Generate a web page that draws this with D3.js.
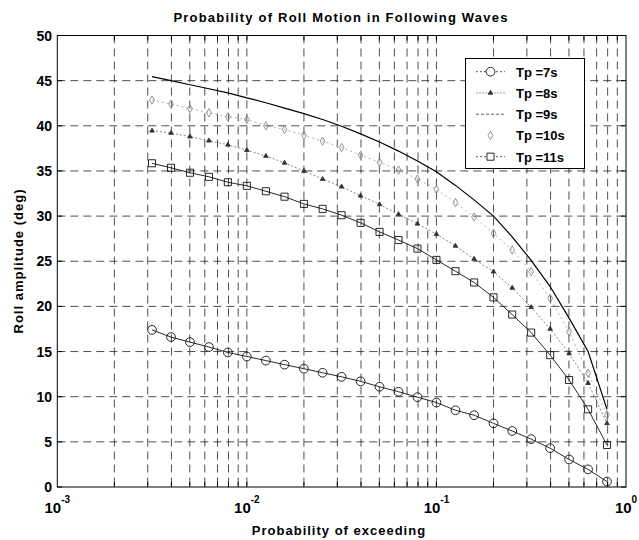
<!DOCTYPE html>
<html>
<head>
<meta charset="utf-8">
<script src="https://cdn.jsdelivr.net/npm/d3@7"></script>
<style>
  body { margin: 0; background: #fff; }
  svg { display: block; font-family: "Liberation Sans", Arial, sans-serif; }
</style>
</head>
<body>
<div id="chart"></div>
<script>
// probability of exceeding (x), shared by all curves
var probs = [0.00316, 0.00398, 0.00501, 0.00631, 0.00794, 0.01, 0.0126, 0.0158, 0.02, 0.0251,
             0.0316, 0.0398, 0.0501, 0.0631, 0.0794, 0.1, 0.126, 0.158, 0.2, 0.251,
             0.316, 0.398, 0.501, 0.631, 0.794];

var tp7  = [17.4, 16.6, 16.05, 15.5, 14.9, 14.45, 14.0, 13.55, 13.1, 12.65, 12.2, 11.7, 11.1, 10.55, 9.95,
            9.35, 8.5, 7.95, 7.05, 6.2, 5.3, 4.3, 3.05, 1.95, 0.6];
var tp8  = [39.45, 39.2, 38.8, 38.35, 37.9, 37.3, 36.65, 35.9, 35.0, 34.1, 33.25, 32.25, 31.3, 30.2, 29.15,
            28.0, 26.7, 25.25, 23.85, 22.05, 19.9, 17.5, 14.8, 11.5, 7.05];
var tp9  = [45.45, 45.0, 44.55, 44.1, 43.65, 43.1, 42.55, 41.95, 41.35, 40.7, 39.95, 39.1, 38.2, 37.2, 36.1,
            34.9, 33.4, 31.8, 30.0, 27.7, 25.1, 22.2, 18.7, 15.0, 8.6];
var tp10 = [42.85, 42.4, 41.9, 41.45, 41.0, 40.7, 40.0, 39.6, 38.95, 38.3, 37.6, 36.75, 35.95, 35.1, 34.1,
            32.95, 31.5, 29.9, 28.1, 26.25, 23.85, 20.9, 17.2, 12.6, 8.0];
var tp11 = [35.85, 35.35, 34.8, 34.35, 33.75, 33.35, 32.75, 32.15, 31.35, 30.8, 30.1, 29.25, 28.25, 27.35, 26.4,
            25.15, 23.9, 22.65, 21.0, 19.1, 17.1, 14.6, 11.85, 8.6, 4.65];

var seriesNames = ["Tp =7s", "Tp =8s", "Tp =9s", "Tp =10s", "Tp =11s"];
var xTickExps = [-3, -2, -1, 0];
var yTicks = [0, 5, 10, 15, 20, 25, 30, 35, 40, 45, 50];

var W = 639, H = 540;
var pL = 57.3, pR = 626, pT = 35.5, pB = 487;

var svg = d3.select("#chart").append("svg")
    .attr("width", W)
    .attr("height", H);

var x = d3.scaleLog().domain([1e-3, 1]).range([pL, pR]);
var y = d3.scaleLinear().domain([0, 50]).range([pB, pT]);

// grid
var xGrid = x.ticks().filter(function(d) { return d > 1.0001e-3 && d < 0.9999; });
svg.append("g").selectAll("line")
    .data(xGrid)
    .enter().append("line")
    .attr("x1", function(d) { return x(d); })
    .attr("x2", function(d) { return x(d); })
    .attr("y1", pT)
    .attr("y2", pB)
    .attr("stroke", "#222")
    .attr("stroke-width", 0.8)
    .attr("stroke-dasharray", "8,5");

svg.append("g").selectAll("line")
    .data(yTicks.filter(function(d) { return d > 0 && d < 50; }))
    .enter().append("line")
    .attr("x1", pL)
    .attr("x2", pR)
    .attr("y1", function(d) { return y(d); })
    .attr("y2", function(d) { return y(d); })
    .attr("stroke", "#222")
    .attr("stroke-width", 0.8)
    .attr("stroke-dasharray", "8,5");

// inner ticks on all sides
var tk = svg.append("g").attr("stroke", "#000").attr("stroke-width", 1);
xGrid.forEach(function(d) {
    tk.append("line").attr("x1", x(d)).attr("x2", x(d)).attr("y1", pB).attr("y2", pB - 5);
    tk.append("line").attr("x1", x(d)).attr("x2", x(d)).attr("y1", pT).attr("y2", pT + 5);
});
yTicks.forEach(function(d) {
    tk.append("line").attr("x1", pL).attr("x2", pL + 5).attr("y1", y(d)).attr("y2", y(d));
    tk.append("line").attr("x1", pR).attr("x2", pR - 5).attr("y1", y(d)).attr("y2", y(d));
});

// frame
svg.append("rect")
    .attr("x", pL).attr("y", pT)
    .attr("width", pR - pL).attr("height", pB - pT)
    .attr("fill", "none")
    .attr("stroke", "#000")
    .attr("stroke-width", 1);

// y tick labels
svg.append("g").selectAll("text")
    .data(yTicks)
    .enter().append("text")
    .attr("x", 52)
    .attr("y", function(d) { return y(d) + 5; })
    .attr("text-anchor", "end")
    .style("font-size", "14px")
    .style("font-weight", "bold")
    .text(function(d) { return d; });

// x tick labels (10^e)
var xl = svg.append("g").selectAll("text")
    .data(xTickExps)
    .enter().append("text")
    .attr("x", function(d) { return x(Math.pow(10, d)); })
    .attr("y", 513)
    .attr("text-anchor", "middle")
    .style("font-size", "15px")
    .style("font-weight", "bold");
xl.append("tspan").text("10");
xl.append("tspan")
    .attr("dy", -10)
    .style("font-size", "10px")
    .text(function(d) { return d; });

// titles
svg.append("text")
    .attr("x", 341).attr("y", 22)
    .attr("text-anchor", "middle")
    .style("font-size", "13px")
    .style("font-weight", "bold")
    .style("letter-spacing", "1.2px")
    .text("Probability of Roll Motion in Following Waves");

svg.append("text")
    .attr("x", 339).attr("y", 535)
    .attr("text-anchor", "middle")
    .style("font-size", "13px")
    .style("font-weight", "bold")
    .style("letter-spacing", "1px")
    .text("Probability of exceeding");

svg.append("text")
    .attr("transform", "translate(23,261) rotate(-90)")
    .attr("text-anchor", "middle")
    .style("font-size", "13px")
    .style("font-weight", "bold")
    .style("letter-spacing", "1px")
    .text("Roll amplitude (deg)");

// curves
function pts(vals) {
    return vals.map(function(v, i) { return [probs[i], v]; });
}
var line = d3.line()
    .x(function(d) { return x(d[0]); })
    .y(function(d) { return y(d[1]); });

var styles = [
    { vals: tp7,  stroke: "#111", width: 0.9, dash: null,  sym: d3.symbolCircle,   size: 60, fill: "none", mstroke: "#111", legendDash: "2,2" },
    { vals: tp8,  stroke: "#777", width: 0.9, dash: "2,2", sym: d3.symbolTriangle, size: 9,  fill: "#333", mstroke: "#333", legendDash: "2,1" },
    { vals: tp9,  stroke: "#000", width: 1.2, dash: null,  sym: null,              size: 0,  fill: "none", mstroke: "none", legendDash: "3,2" },
    { vals: tp10, stroke: "#999", width: 0.8, dash: "2,3", sym: d3.symbolDiamond,  size: 20, fill: "none", mstroke: "#888", legendDash: null },
    { vals: tp11, stroke: "#111", width: 0.9, dash: null,  sym: d3.symbolSquare,   size: 50, fill: "none", mstroke: "#111", legendDash: "2,2" }
];

styles.forEach(function(s) {
    svg.append("path")
        .datum(pts(s.vals))
        .attr("d", line)
        .attr("fill", "none")
        .attr("stroke", s.stroke)
        .attr("stroke-width", s.width)
        .attr("stroke-dasharray", s.dash);
    if (s.sym) {
        svg.append("g").selectAll("path")
            .data(pts(s.vals))
            .enter().append("path")
            .attr("transform", function(d) { return "translate(" + x(d[0]) + "," + y(d[1]) + ")"; })
            .attr("d", d3.symbol().type(s.sym).size(s.size))
            .attr("fill", s.fill)
            .attr("stroke", s.mstroke)
            .attr("stroke-width", 0.9);
    }
});

// legend
var lg = svg.append("g");
lg.append("rect")
    .attr("x", 465.5).attr("y", 58.5)
    .attr("width", 119).attr("height", 110)
    .attr("fill", "#fff")
    .attr("stroke", "#000")
    .attr("stroke-width", 1);

styles.forEach(function(s, i) {
    var ly = 71.7 + i * 21.25;
    if (s.legendDash) {
        lg.append("line")
            .attr("x1", 476).attr("x2", 505)
            .attr("y1", ly).attr("y2", ly)
            .attr("stroke", i === 1 ? "#888" : "#333")
            .attr("stroke-width", 0.8)
            .attr("stroke-dasharray", s.legendDash);
    }
    if (s.sym) {
        lg.append("path")
            .attr("transform", "translate(490.5," + ly + ")")
            .attr("d", d3.symbol().type(s.sym).size(s.size))
            .attr("fill", s.fill === "none" ? "#fff" : s.fill)
            .attr("stroke", s.mstroke)
            .attr("stroke-width", 0.9);
    }
    lg.append("text")
        .attr("x", 516)
        .attr("y", ly + 5)
        .style("font-size", "13px")
        .style("font-weight", "bold")
        .text(seriesNames[i]);
});
</script>
</body>
</html>
